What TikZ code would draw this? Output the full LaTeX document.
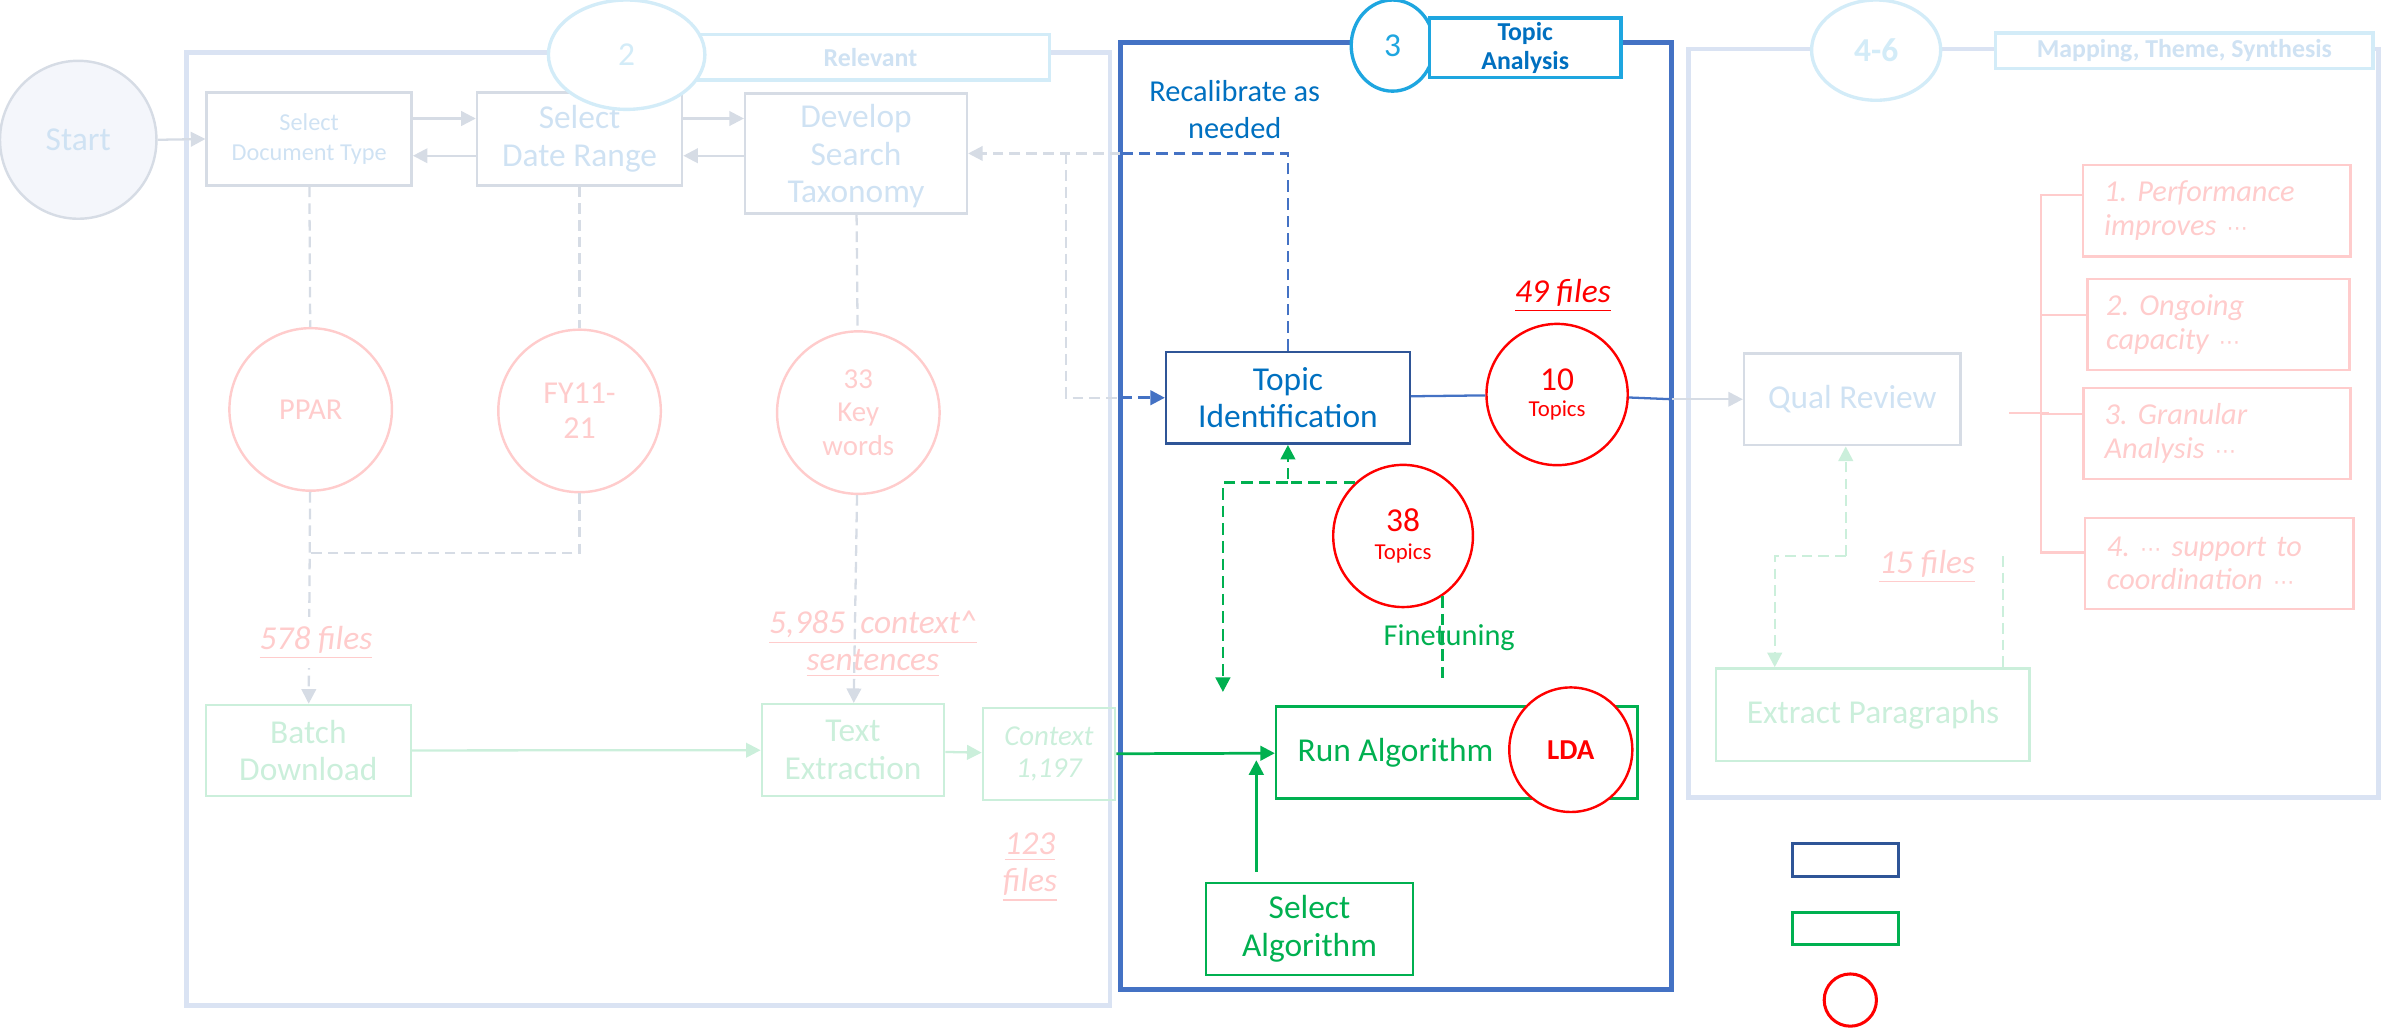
\documentclass[tikz,border=0pt]{standalone}
\usepackage{fontspec}
\setmainfont{Carlito}
\newfontfamily\dotsfont{DejaVu Sans}
\newcommand{\themedots}{{\dotsfont\fontsize{7}{7}\selectfont ⋯}}
\usetikzlibrary{positioning}
\usetikzlibrary{shapes.geometric}
\usetikzlibrary{arrows.meta}

\definecolor{framepale}{HTML}{DAE3F3}
\definecolor{boxpale}{HTML}{D6DCE5}
\definecolor{textpale}{HTML}{CFE2F3}
\definecolor{cyanpale}{HTML}{D3ECF8}
\definecolor{redpale}{HTML}{FFCCCC}
\definecolor{greenpale}{HTML}{CBEFDB}
\definecolor{startfill}{HTML}{F4F6FB}
\definecolor{framedark}{HTML}{4472C4}
\definecolor{boxnavy}{HTML}{2F5597}
\definecolor{textblue}{HTML}{0070C0}
\definecolor{topiccyan}{HTML}{1EA6E0}
\definecolor{algogreen}{HTML}{00B050}

\begin{document}
\frenchspacing
\begin{tikzpicture}[x=0.5pt, y=-0.5pt, >={Triangle[length=4.8pt, width=4.8pt]},
    every node/.style={inner sep=0pt, align=center},
    big/.style={font=\fontsize{11}{12.4}\selectfont},
    paleframe/.style={draw=framepale, line width=1.6pt},
    palebox/.style={draw=boxpale, line width=0.8pt, text=textpale, big},
    paledot/.style={ellipse, draw=redpale, line width=0.8pt, text=redpale, fill=white},
    palegreen/.style={draw=greenpale, line width=0.8pt, text=greenpale, big},
    palenote/.style={text=redpale, font=\itshape\fontsize{11}{12.2}\selectfont},
    palelabel/.style={draw=cyanpale, line width=1.1pt, fill=white, text=textpale, font=\bfseries\fontsize{8.5}{9.3}\selectfont},
    stagedot/.style={ellipse, line width=1.1pt, fill=white, font=\fontsize{11}{12}\selectfont},
    themebox/.style={draw=redpale, line width=0.8pt, text=redpale, align=left, text width=74pt, minimum height=30pt, font=\itshape\fontsize{10}{11}\selectfont},
    navybox/.style={draw=boxnavy, line width=0.8pt, text=textblue, big},
    greenbox/.style={draw=algogreen, line width=0.8pt, text=algogreen, big},
    reddot/.style={ellipse, draw=red, line width=0.8pt, text=red, fill=white},
    paleline/.style={draw=boxpale, line width=0.75pt},
    paledash/.style={paleline, dash pattern=on 3.5pt off 2pt},
    greenfade/.style={draw=greenpale, line width=0.75pt},
    greenfadedash/.style={greenfade, dash pattern=on 3.5pt off 2pt},
    bluedash/.style={draw=framedark, line width=0.9pt, dash pattern=on 3.8pt off 2pt},
    greendash/.style={draw=algogreen, line width=0.9pt, dash pattern=on 3.8pt off 2pt},
    redline/.style={draw=redpale, line width=0.8pt}]

    \useasboundingbox (0, 0) rectangle (1568, 677);

    \draw [paleframe] (123, 34.7) rectangle (730.7, 662);
    \path (573, 37.6) node [palelabel, minimum width=118pt, minimum height=15pt] (relevant) {Relevant};

    \path (51.5, 92) node [ellipse, draw=boxpale, fill=startfill, line width=0.8pt, text=textpale, minimum width=51.5pt, minimum height=52pt, font=\fontsize{11}{12}\selectfont] (start) {Start};
    \path (203.5, 91.5) node [palebox, minimum width=67.5pt, minimum height=30.5pt, font=\fontsize{8}{9.6}\selectfont] (doctype) {Select\\Document Type};
    \path (381.5, 91.5) node [palebox, minimum width=67.5pt, minimum height=30.5pt] (daterange) {Select\\Date Range};
    \path (563.5, 101) node [palebox, minimum width=73pt, minimum height=39.5pt, font=\fontsize{11}{12.4}\selectfont] (taxonomy) {\rule{0pt}{9.5pt}Develop\\Search\\Taxonomy};
    \draw [paleline, ->] (start.east) -- (doctype.west);
    \draw [paleline, ->] ([yshift=6.75pt]doctype.east) -- ([yshift=6.75pt]daterange.west);
    \draw [paleline, <-] ([yshift=-5.5pt]doctype.east) -- ([yshift=-5.5pt]daterange.west);
    \draw [paleline, ->] ([yshift=6.75pt]daterange.east) -- ([yshift=6.75pt]daterange.east -| taxonomy.west);
    \draw [paleline, <-] ([yshift=-5.5pt]daterange.east) -- ([yshift=-5.5pt]daterange.east -| taxonomy.west);

    \path (204.5, 269.5) node [paledot, minimum size=53.5pt, font=\fontsize{10}{11.5}\selectfont] (ppar) {PPAR};
    \path (381.5, 270.5) node [paledot, minimum size=53.5pt, font=\fontsize{10.5}{11.5}\selectfont] (fiscal) {FY11-\\21};
    \path (565, 271.6) node [paledot, minimum size=53.5pt, font=\fontsize{9.5}{11}\selectfont] (keywords) {33\\Key\\words};
    \draw [paledash] (doctype) -- (ppar);
    \draw [paledash] (daterange) -- (fiscal);
    \draw [paledash] (taxonomy) -- (keywords);

    \path (203, 494) node [palegreen, minimum width=67.5pt, minimum height=30pt] (batch) {Batch\\Download};
    \path (561.5, 493.8) node [palegreen, minimum width=60pt, minimum height=30.25pt] (textext) {Text\\Extraction};
    \path (690.5, 496.3) node [palegreen, minimum width=43.5pt, minimum height=30.35pt, font=\itshape\fontsize{9.5}{10.5}\selectfont] (context) {Context\\1,197};
    \coordinate (merge) at (204.5, 364);
    \draw [paledash] (fiscal) |- (merge);
    \draw [paledash, ->] (ppar) -- (batch);
    \draw [paledash, ->] (keywords) -- (textext);
    \draw [greenfade, ->] (batch) -- (textext);
    \draw [greenfade, ->] (textext) -- (context);
    \path (208, 423) node [palenote, fill=white, inner ysep=3pt] (filesa) {\underline{578 files}};
    \path (574.6, 424) node [palenote] (sentences) {\underline{5,985\ \ context\textasciicircum}\\\underline{sentences}};
    \path (678, 571) node [palenote] (filesb) {\underline{123}\\\underline{files}};

    \path (412.5, 36) node [stagedot, draw=cyanpale, text=cyanpale, minimum width=51.5pt, minimum height=36pt] (stagetwo) {2};

    \draw [draw=framedark, line width=1.6pt] (737.5, 28) rectangle (1100.5, 651.5);
    \path (916.7, 30) node [stagedot, draw=topiccyan, text=topiccyan, minimum width=27.25pt, minimum height=30pt] (stagethree) {3};
    \path (1004, 31.5) node [draw=topiccyan, line width=1.2pt, fill=white, text=textblue, minimum width=63pt, minimum height=19.5pt, font=\bfseries\fontsize{8.5}{9.3}\selectfont] (topicanalysis) {Topic\\Analysis};

    \path (812.8, 72) node [text=textblue, font=\fontsize{10}{12}\selectfont] (recaltext) {Recalibrate as\\needed};
    \path (847.8, 261.8) node [navybox, minimum width=80.2pt, minimum height=30.25pt] (topicid) {Topic\\Identification};
    \coordinate (recal) at (737.5, 101);
    \coordinate (fork) at (701.8, 101);
    \draw [bluedash] (topicid) |- (recal);
    \draw [paledash, ->] (recal) -- (taxonomy);
    \draw [paledash] (fork) |- (recal |- topicid.west);
    \draw [bluedash, ->] (recal |- topicid.west) -- (topicid);

    \path (1025, 259.7) node [reddot, minimum size=46.5pt, font=\fontsize{7.5}{8.3}\selectfont] (topicsten) {{\fontsize{11}{11}\selectfont 10}\\Topics};
    \path (923.6, 352.8) node [reddot, minimum width=46pt, minimum height=46.8pt, font=\fontsize{7.5}{9.2}\selectfont] (topicsmany) {{\fontsize{11}{11}\selectfont 38}\\Topics};
    \path (1028.8, 194.5) node [text=red, font=\itshape\fontsize{11}{12.2}\selectfont] (filesc) {\underline{49 files}};
    \coordinate (out3) at (1100.5, 262.8);
    \draw [draw=framedark, line width=0.75pt] (topicid) -- (topicsten);
    \draw [draw=framedark, line width=0.75pt] (topicsten) -- (out3);

    \path (959, 495.4) node [greenbox, minimum width=119pt, minimum height=30.35pt] (runalg) {};
    \node [text=algogreen, big, right=7.3pt of runalg.west] (runtext) {Run Algorithm};
    \path (1034, 493.5) node [reddot, minimum width=40.5pt, minimum height=41pt, font=\bfseries\fontsize{9.5}{11}\selectfont] (lda) {LDA};
    \path (862, 611.4) node [greenbox, minimum width=68pt, minimum height=30.35pt] (selalg) {Select\\Algorithm};
    \draw [draw=algogreen, line width=0.9pt, ->] (context) -- (runalg);
    \draw [draw=algogreen, line width=0.9pt, ->, shorten <=3.25pt, shorten >=2.5pt] ([xshift=-17.5pt]selalg.north) -- ([xshift=-17.5pt]selalg.north |- runalg.west);

    \coordinate (tunedrop) at (805, 455.5);
    \draw [greendash, ->] (topicsmany.132) -| (topicid);
    \draw [greendash, ->] (topicsmany.132 -| topicid.south) -| (tunedrop);
    \draw [greendash] (topicsmany.-57) -- ([yshift=9pt]topicsmany.-57 |- runalg.north);
    \path (954, 420) node [text=algogreen, font=\fontsize{10}{12}\selectfont] (finetune) {Finetuning};

    \draw [paleframe] (1111.5, 32.2) rectangle (1565.6, 525);
    \path (1235, 33) node [stagedot, draw=cyanpale, text=cyanpale, minimum width=42.5pt, minimum height=33pt, font=\bfseries\fontsize{11}{12}\selectfont] (stagefour) {4-6};
    \path (1437.9, 33.4) node [palelabel, minimum width=124.15pt, minimum height=11.6pt] (mapping) {Mapping, Theme, Synthesis};

    \path (1219.3, 262.8) node [palebox, minimum width=71.25pt, minimum height=30.25pt] (qual) {Qual Review};
    \path (1232.9, 470.5) node [palegreen, minimum width=103.15pt, minimum height=30.5pt] (extract) {Extract Paragraphs};
    \draw [paleline, ->] (out3) -- (qual);
    \coordinate (review) at (1215, 366);
    \draw [greenfadedash, ->] (review) -- (review |- qual.south);
    \draw [greenfadedash, ->] (review) -| ([xshift=19.65pt]extract.north west);
    \draw [greenfadedash] ([xshift=-9.1pt]extract.north east |- review) -- ([xshift=-9.1pt]extract.north east);
    \path (1268.7, 373) node [palenote] (filesd) {\underline{15 files}};

    \path (1459.1, 138.7) node [themebox, minimum width=88.1pt] (themea) {1. Performance\\improves \themedots};
    \path (1460.4, 213.6) node [themebox, minimum width=86.2pt] (themeb) {2. Ongoing\\capacity \themedots};
    \path (1459.4, 285.3) node [themebox, minimum width=87.85pt] (themec) {3. Granular\\Analysis \themedots};
    \path (1460.9, 370.8) node [themebox, minimum width=88.45pt] (themed) {4. \themedots{} support to\\coordination \themedots};
    \draw [redline] ([yshift=5.2pt]themea.west) -- ++(-13.35pt, 0) |- ([yshift=3.6pt]themed.west);
    \draw [redline] ([yshift=3.1pt]themeb.west) -- ++(-14.95pt, 0);
    \draw [redline] ([yshift=6.45pt]themec.west) -- ++(-13.6pt, 0);
    \coordinate (themestub) at (1322.7, 272);
    \draw [redline] (themestub) -- ++(13pt, 0);

    \path (1214.8, 566.3) node [draw=boxnavy, line width=1pt, minimum width=34.75pt, minimum height=10.9pt] (keynavy) {};
    \path (1214.8, 611) node [draw=algogreen, line width=1pt, minimum width=34.75pt, minimum height=10.55pt] (keygreen) {};
    \path (1218, 658.3) node [ellipse, draw=red, line width=1pt, minimum size=17.2pt] (keyred) {};
\end{tikzpicture}
\end{document}
